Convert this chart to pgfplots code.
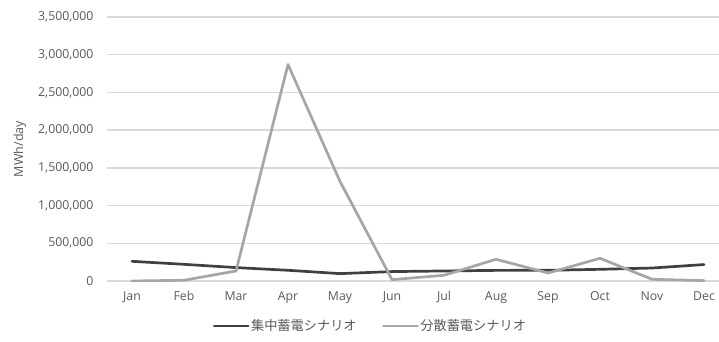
\documentclass[border=0pt]{standalone}
\usepackage{fontspec}
\setmainfont{Open Sans}
\newfontfamily\jpfont{Noto Sans CJK JP}
\usepackage{pgfplots}
\pgfplotsset{compat=1.18}

\definecolor{darkline}{HTML}{404040}
\definecolor{lightline}{HTML}{A6A6A6}
\definecolor{gridgray}{HTML}{D9D9D9}
\definecolor{labelgray}{HTML}{595959}

% Monthly storage (MWh/day) for the two scenarios
\pgfplotstableread{
m  central  distributed
0  261000   0
1  221000   10000
2  178000   133000
3  142000   2870000
4  98000    1320000
5  125000   18000
6  133000   76000
7  141000   288000
8  142000   106000
9  155000   301000
10 172000   23000
11 218000   5000
}\storagedata

\begin{document}
\begin{tikzpicture}
\useasboundingbox (-107pt,-60pt) rectangle (612pt,281pt);
\begin{axis}[
  at={(0pt,0pt)}, anchor=south west,
  scale only axis, width=612pt, height=264pt,
  xmin=-0.481, xmax=11.288, ymin=0, ymax=3500000,
  axis line style={draw=none},
  major tick length=0pt,
  ymajorgrids,
  grid style={gridgray, line width=1.3pt},
  xtick={0,...,11},
  xticklabels={Jan,Feb,Mar,Apr,May,Jun,Jul,Aug,Sep,Oct,Nov,Dec},
  ytick={0,500000,1000000,1500000,2000000,2500000,3000000,3500000},
  scaled y ticks=false,
  /pgf/number format/assume math mode=true,
  yticklabel style={/pgf/number format/fixed, /pgf/number format/1000 sep={,},
    xshift=-10pt},
  xticklabel style={yshift=-7pt},
  tick label style={font=\fontsize{12.3}{14}\selectfont, text=labelgray},
  ylabel={MWh/day},
  ylabel style={at={(axis description cs:-0.1422,0.5)}, anchor=center,
    font=\fontsize{12.5}{14}\selectfont, text=labelgray},
  legend columns=2,
  legend style={at={(axis description cs:0.43,-0.170)}, anchor=center,
    draw=none, fill=none, font=\jpfont\fontsize{13.2}{15}\selectfont, text=labelgray,
    /tikz/every even column/.append style={column sep=24pt},
    nodes={inner sep=1.5pt}},
  legend image code/.code={\draw[#1] (0pt,0pt) -- (34pt,0pt);},
  every axis plot/.append style={line width=2.7pt, line join=round, line cap=round},
]
\addplot[darkline] table[x=m, y=central] {\storagedata};
\addlegendentry{集中蓄電シナリオ}
\addplot[lightline] table[x=m, y=distributed] {\storagedata};
\addlegendentry{分散蓄電シナリオ}
\end{axis}
\end{tikzpicture}
\end{document}
